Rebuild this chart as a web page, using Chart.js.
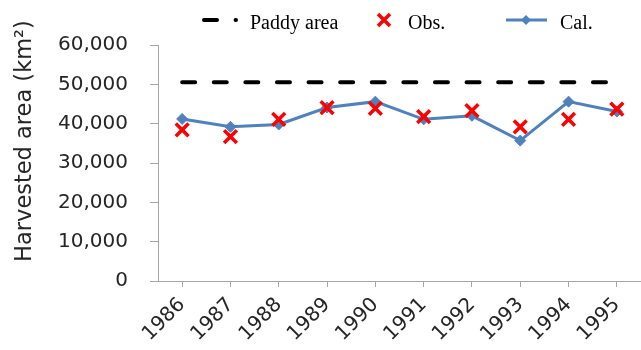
<!DOCTYPE html>
<html>
<head>
<meta charset="utf-8">
<script src="https://cdn.jsdelivr.net/npm/chart.js@4"></script>
<style>
  html, body { margin: 0; padding: 0; background: #fff; }
  #chart { display: block; }
</style>
</head>
<body>
<canvas id="chart" width="641" height="350"></canvas>
<script>
const years = ['1986', '1987', '1988', '1989', '1990', '1991', '1992', '1993', '1994', '1995'];
const paddyArea = [50500, 50500, 50500, 50500, 50500, 50500, 50500, 50500, 50500, 50500];
const obsArea = [38400, 36700, 41100, 44100, 43900, 41800, 43300, 39200, 41100, 43700];
const calArea = [41200, 39200, 39800, 44100, 45600, 41100, 42000, 35700, 45600, 43100];
const yMax = 60000;
const yStep = 10000;
const yTitle = 'Harvested area (km²)';

const tickFont = { family: 'DejaVu Sans', size: 20 };
const axisColor = '#a6a6a6';
const calBlue = '#4f81bd';
const paddyDash = [13, 18.6];

// legend drawn by hand so it sits where the original one does
const topLegend = {
  id: 'topLegend',
  afterDraw(chart) {
    const ctx = chart.ctx;
    const y = 20;
    ctx.save();
    ctx.font = '20px "Liberation Serif"';
    ctx.fillStyle = '#000';
    ctx.textBaseline = 'middle';

    // Paddy area
    ctx.strokeStyle = '#000';
    ctx.lineWidth = 4;
    ctx.lineCap = 'round';
    ctx.setLineDash(paddyDash);
    ctx.beginPath();
    ctx.moveTo(204, y);
    ctx.lineTo(236, y);
    ctx.stroke();
    ctx.setLineDash([]);
    ctx.fillText('Paddy area', 250, y + 4);

    // Obs.
    ctx.strokeStyle = '#ff0000';
    ctx.lineWidth = 3.5;
    ctx.lineCap = 'butt';
    ctx.beginPath();
    ctx.moveTo(378, y - 6); ctx.lineTo(390, y + 6);
    ctx.moveTo(390, y - 6); ctx.lineTo(378, y + 6);
    ctx.stroke();
    ctx.fillText('Obs.', 408, y + 4);

    // Cal.
    ctx.strokeStyle = calBlue;
    ctx.fillStyle = calBlue;
    ctx.lineWidth = 3;
    ctx.beginPath();
    ctx.moveTo(506, y); ctx.lineTo(547, y);
    ctx.stroke();
    ctx.beginPath();
    ctx.moveTo(526, y - 5); ctx.lineTo(531, y); ctx.lineTo(526, y + 5); ctx.lineTo(521, y);
    ctx.closePath();
    ctx.fill();
    ctx.fillStyle = '#000';
    ctx.fillText('Cal.', 560, y + 4);

    // y axis title
    ctx.translate(25, 141);
    ctx.rotate(-Math.PI / 2);
    ctx.font = '22.5px "DejaVu Sans"';
    ctx.fillStyle = '#262626';
    ctx.textAlign = 'center';
    ctx.fillText(yTitle, 0, 0);
    ctx.restore();
  }
};

new Chart(document.getElementById('chart'), {
  type: 'line',
  data: {
    labels: years,
    datasets: [
      {
        label: 'Obs.',
        data: obsArea,
        showLine: false,
        pointStyle: 'crossRot',
        pointRadius: 9,
        pointHoverRadius: 9,
        pointBorderWidth: 3.5,
        borderColor: '#ff0000',
        backgroundColor: '#ff0000',
        order: 0
      },
      {
        label: 'Cal.',
        data: calArea,
        borderColor: calBlue,
        backgroundColor: calBlue,
        borderWidth: 3,
        pointStyle: 'rectRot',
        pointRadius: 5.5,
        pointBorderWidth: 1,
        tension: 0,
        order: 1
      },
      {
        label: 'Paddy area',
        data: paddyArea,
        borderColor: '#000',
        borderWidth: 4,
        borderDash: paddyDash,
        borderCapStyle: 'round',
        pointRadius: 0,
        order: 2
      }
    ]
  },
  options: {
    responsive: false,
    devicePixelRatio: 1,
    animation: false,
    layout: { autoPadding: false, padding: { top: 45, right: 0, left: 0, bottom: 0 } },
    plugins: {
      legend: { display: false },
      tooltip: { enabled: false }
    },
    scales: {
      x: {
        offset: true,
        grid: { drawOnChartArea: false, tickLength: 6, color: axisColor },
        border: { color: axisColor },
        ticks: { minRotation: 45, maxRotation: 45, padding: 6, font: tickFont, color: '#262626' },
        afterFit: s => { s.height = 69; s.paddingLeft = 0; s.paddingRight = 0; }
      },
      y: {
        min: 0,
        max: yMax,
        grid: { drawOnChartArea: false, tickLength: 8, color: axisColor },
        border: { color: axisColor },
        ticks: {
          stepSize: yStep,
          padding: 22,
          font: tickFont,
          color: '#262626',
          callback: v => v.toLocaleString('en-US')
        },
        afterFit: s => { s.width = 158; s.paddingTop = 0; s.paddingBottom = 0; }
      }
    }
  },
  plugins: [topLegend]
});
</script>
</body>
</html>
